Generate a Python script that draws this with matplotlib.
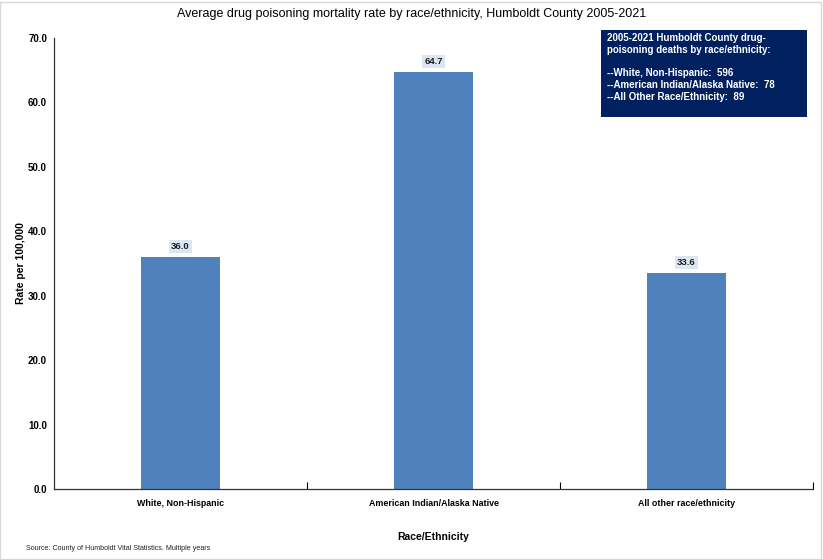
import matplotlib.pyplot as plt

plt.rcParams['font.family'] = ['Liberation Sans', 'DejaVu Sans']

groups = ["White, Non-Hispanic", "American Indian/Alaska Native", "All other race/ethnicity"]
rates = [36.0, 64.7, 33.6]
death_counts = [596, 78, 89]
count_labels = ["White, Non-Hispanic", "American Indian/Alaska Native", "All Other Race/Ethnicity"]

fig = plt.figure(figsize=(8.23, 5.59), dpi=100)
ax = fig.add_axes([0.0656, 0.1252, 0.9223, 0.8068])

x = range(len(groups))
bars = ax.bar(x, rates, width=0.31, color="#4f81bd", zorder=2)
for b, v in zip(bars, rates):
    ax.text(b.get_x() + b.get_width() / 2, v + 0.9, f"{v:.1f}", ha="center", va="bottom",
            fontsize=6.8, fontweight="bold", color="#1a1a1a",
            bbox=dict(boxstyle="square,pad=0.2", fc="#dce6f2", ec="none"))

ax.set_xlim(-0.5, 2.5)
ax.set_ylim(0, 70)
ax.set_yticks(range(0, 71, 10))
ax.set_yticklabels([f"{t:.1f}" for t in range(0, 71, 10)], fontsize=7, fontweight="bold")
ax.set_xticks(list(x))
ax.set_xticklabels(groups, fontsize=6.4, fontweight="bold")
ax.tick_params(axis="x", length=0, pad=7)
ax.set_xticks([0.5, 1.5, 2.5], minor=True)
ax.tick_params(axis="x", which="minor", length=5, direction="in", width=0.8)
ax.tick_params(axis="y", length=0, pad=5)
for s in ["top", "right"]:
    ax.spines[s].set_visible(False)
for s in ["left", "bottom"]:
    ax.spines[s].set_linewidth(0.9)
    ax.spines[s].set_color("#333333")

fig.text(21 / 823, 1 - 263 / 559, "Rate per 100,000", rotation=90, fontsize=7.5,
         fontweight="bold", ha="center", va="center")
fig.text(433 / 823, 1 - 537 / 559, "Race/Ethnicity", fontsize=7.5,
         fontweight="bold", ha="center", va="center")

fig.suptitle("Average drug poisoning mortality rate by race/ethnicity, Humboldt County 2005-2021",
             fontsize=9, y=0.985)

box_text = ("2005-2021 Humboldt County drug-\npoisoning deaths by race/ethnicity:\n\n"
            + "\n".join(f"--{n}:  {c}" for n, c in zip(count_labels, death_counts)))
fig.patches.append(plt.Rectangle((601 / 823, 1 - 117 / 559), 206 / 823, 87 / 559,
                                 transform=fig.transFigure, fc="#002060", ec="none"))
fig.text(607 / 823, 1 - 33 / 559, box_text, color="white", fontsize=7, fontweight="bold",
         va="top", ha="left", linespacing=1.22)

fig.text(26 / 823, 1 - 548 / 559, "Source: County of Humboldt Vital Statistics. Multiple years",
         fontsize=5.1, va="center", color="#222222")

fig.patches.append(plt.Rectangle((0, 0), 0.997, 0.997, transform=fig.transFigure,
                                 fill=False, ec="#d9d9d9", lw=1))

fig.savefig("out.png", dpi=100)
